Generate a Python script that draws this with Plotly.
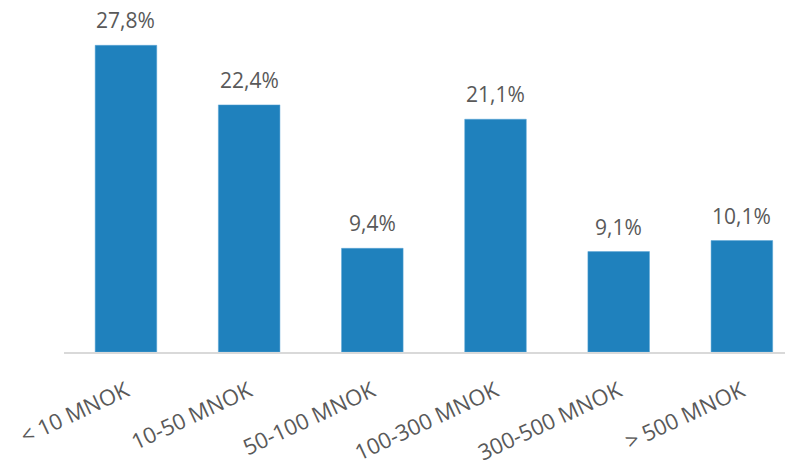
import plotly.graph_objects as go

categories = ["< 10 MNOK", "10-50 MNOK", "50-100 MNOK", "100-300 MNOK", "300-500 MNOK", "> 500 MNOK"]
shares = [27.8, 22.4, 9.4, 21.1, 9.1, 10.1]

BAR = "#1f81bd"
TEXT = "#595959"
FONT = "Open Sans"

fig = go.Figure()
fig.add_trace(go.Bar(
    x=categories, y=shares,
    marker=dict(color=BAR, line=dict(color="#5aa7d6", width=0.5)),
    width=0.5,
    hoverinfo="skip",
))

# value labels above each bar
for cat, v in zip(categories, shares):
    fig.add_annotation(
        x=cat, y=v, yanchor="bottom", yshift=9,
        text=f"{v:.1f}".replace(".", ",") + "%",
        showarrow=False,
        font=dict(size=21, color=TEXT, family=FONT),
    )

# page body has an 8px margin, so margins are shifted to compensate
fig.update_layout(
    width=793, height=462,
    paper_bgcolor="white", plot_bgcolor="white",
    margin=dict(l=56, r=0, t=2, b=118),
    showlegend=False,
    font=dict(family=FONT, color=TEXT),
)
fig.update_xaxes(
    range=[-0.503, 5.48],
    automargin=False,
    showline=True, linecolor="#d9d9d9", linewidth=2,
    ticks="outside", ticklen=16, tickcolor="rgba(0,0,0,0)", tickangle=-25,
    tickfont=dict(size=22, color=TEXT, family=FONT),
    showgrid=False,
)
fig.update_yaxes(
    range=[0, 31.0],
    automargin=False,
    visible=False, showgrid=False, zeroline=False,
)

fig.write_html("out.html")
